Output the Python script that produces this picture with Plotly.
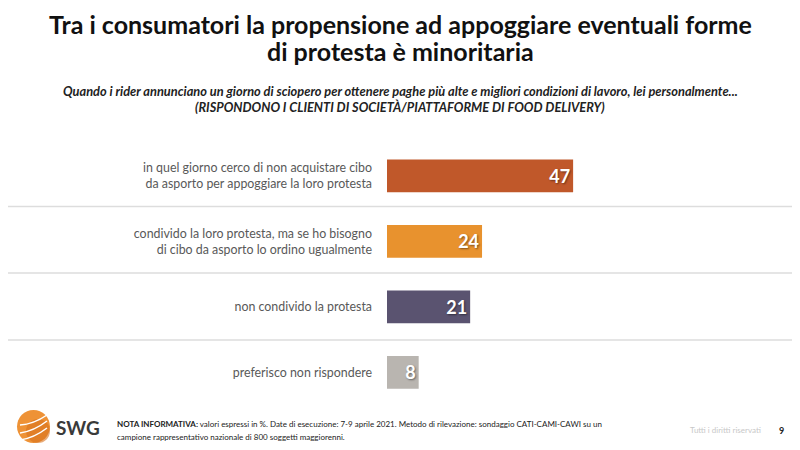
import plotly.graph_objects as go

categories = [
    "in quel giorno cerco di non acquistare cibo<br>da asporto per appoggiare la loro protesta",
    "condivido la loro protesta, ma se ho bisogno<br>di cibo da asporto lo ordino ugualmente",
    "non condivido la protesta",
    "preferisco non rispondere",
]
values = [47, 24, 21, 8]
colors = ["#C0582A", "#E8922E", "#5A5370", "#B9B5B0"]

OFF = 8  # browser body margin
W, H = 792, 442
L, T, B = 387 - OFF, 143 - OFF, 45
R = W - (387 + 396 - OFF)
PW, PH = W - L - R, H - T - B

def px(x):
    return (x - OFF - L) / PW

def py(y):
    return (H - B - (y - OFF)) / PH

FONT = "Lato"

fig = go.Figure(go.Bar(
    y=categories, x=values, orientation="h",
    marker=dict(color=colors, line=dict(width=0)),
    text=[str(v) for v in values], textposition="inside",
    insidetextanchor="end",
    textfont=dict(family=FONT, size=18, color="white", weight="bold",
                  shadow="1px 1px 2px rgba(0,0,0,0.45)"),
    cliponaxis=False,
))

fig.update_layout(
    width=W, height=H, margin=dict(l=L, r=R, t=T, b=B),
    paper_bgcolor="white", plot_bgcolor="white",
    bargap=0.5, showlegend=False,
    xaxis=dict(range=[0, 100], visible=False),
    yaxis=dict(autorange="reversed", showgrid=False, zeroline=False,
               ticks="", ticklabelstandoff=14,
               tickfont=dict(family=FONT, size=12.4, color="#595959")),
)

# separators
for yy in [206.5, 273, 340]:
    fig.add_shape(type="line", xref="paper", yref="paper",
                  x0=px(0), x1=px(800), y0=py(yy), y1=py(yy),
                  line=dict(color="#DDDDDD", width=1.5))

anns = [
    dict(x=px(400), y=py(24), text="<b>Tra i consumatori la propensione ad appoggiare eventuali forme</b>",
         font=dict(family=FONT, size=25, color="#111111"), xanchor="center"),
    dict(x=px(400), y=py(51), text="<b>di protesta è minoritaria</b>",
         font=dict(family=FONT, size=25, color="#111111"), xanchor="center"),
    dict(x=px(400), y=py(91), text="<b><i>Quando i rider annunciano un giorno di sciopero per ottenere paghe più alte e migliori condizioni di lavoro, lei personalmente...</i></b>",
         font=dict(family=FONT, size=12.8, color="#222222"), xanchor="center"),
    dict(x=px(400), y=py(107), text="<b><i>(RISPONDONO I CLIENTI DI SOCIETÀ/PIATTAFORME DI FOOD DELIVERY)</i></b>",
         font=dict(family=FONT, size=12.8, color="#222222"), xanchor="center"),
    dict(x=px(115), y=py(424), text="<b>NOTA INFORMATIVA:</b> valori espressi in %. Date di esecuzione: 7-9 aprile 2021. Metodo di rilevazione: sondaggio CATI-CAMI-CAWI su un",
         font=dict(family=FONT, size=8, color="#222222"), xanchor="left"),
    dict(x=px(115), y=py(437), text="campione rappresentativo nazionale di 800 soggetti maggiorenni.",
         font=dict(family=FONT, size=8, color="#222222"), xanchor="left"),
    dict(x=px(763), y=py(430), text="Tutti i diritti riservati",
         font=dict(family=FONT, size=8, color="#C8C8C8"), xanchor="right"),
    dict(x=px(781), y=py(430), text="<b>9</b>",
         font=dict(family=FONT, size=9, color="#222222"), xanchor="center"),
    dict(x=px(54), y=py(427), text="<b>SWG</b>",
         font=dict(family=FONT, size=19, color="#3A3A3A"), xanchor="left"),
]
for a in anns:
    a.update(xref="paper", yref="paper", yanchor="middle", showarrow=False)
    fig.add_annotation(**a)

# logo sphere
fig.add_shape(type="circle", xref="paper", yref="paper",
              x0=px(17), x1=px(50), y0=py(443), y1=py(410),
              fillcolor="#EE9236", line=dict(width=0), layer="above")
fig.add_shape(type="circle", xref="paper", yref="paper",
              x0=px(26), x1=px(50), y0=py(443), y1=py(419),
              fillcolor="#D9731E", opacity=0.6, line=dict(width=0), layer="above")
for (a0, a1) in [(415, 425), (421, 433), (428, 440)]:
    fig.add_shape(type="path", xref="paper", yref="paper",
                  path=f"M {px(20)},{py(a1)} Q {px(34)},{py((a0+a1)/2+4)} {px(47)},{py(a0)}",
                  line=dict(color="white", width=1.5), layer="above")

fig.write_html("out.html")
